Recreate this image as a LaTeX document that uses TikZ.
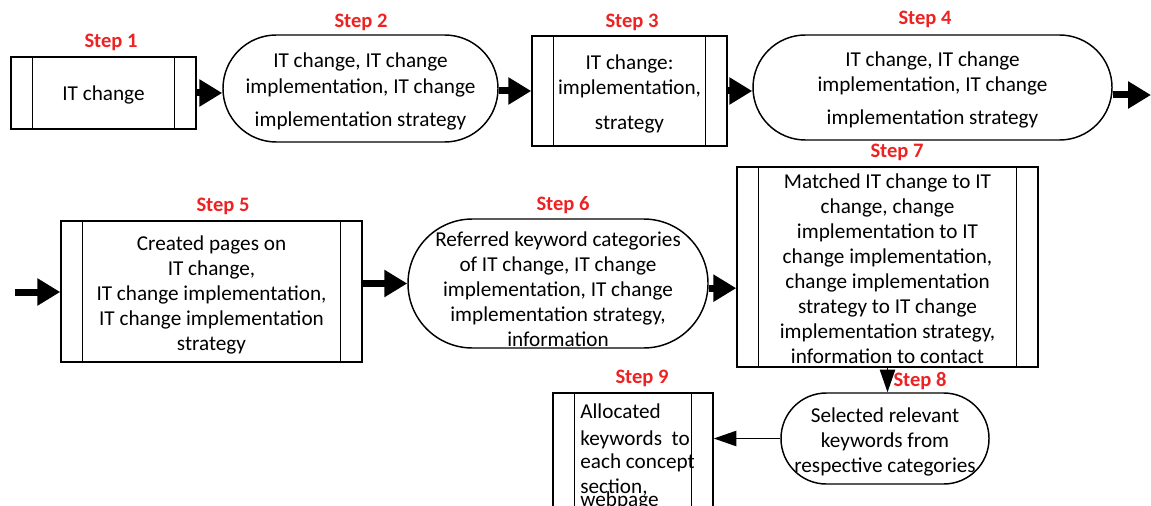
\documentclass[tikz,border=0pt]{standalone}
\usepackage{fontspec}
\setmainfont{Carlito}
\usetikzlibrary{arrows.meta,calc}
\definecolor{steplabel}{RGB}{238,34,34}
\newlength{\upx}\setlength{\upx}{0.75pt}
\newcommand{\topgap}[1]{\rule{0pt}{#1}}
\begin{document}
\begin{tikzpicture}[x=0.75pt,y=-0.75pt,
 every node/.style={font=\fontsize{15.9}{18.75}\selectfont},
 procbox/.style={draw, rectangle, line width=1.1pt, align=center, inner sep=0pt},
 termbox/.style={draw, rectangle, rounded corners=#1, line width=1.1pt, align=center, inner sep=0pt},
 steptitle/.style={text=steplabel, font=\fontsize{15.4}{18}\selectfont\bfseries, inner sep=0pt},
 bigarrow/.style={line width=5.25pt, -{Triangle[length=17.25pt,width=19.5pt]}},
 thinarrow/.style={line width=1.1pt, -{Triangle[length=17pt,width=11.5pt]}},
 bar/.style={line width=1.1pt}
]
\useasboundingbox (0,0) rectangle (1151,506);
\clip (0,0) rectangle (1151,506);

% row 1
\node[procbox, minimum width=185*\upx, minimum height=72*\upx] (s1) at (103.5,93) {\topgap{13.8pt}IT change};
\node[termbox=40pt, minimum width=275*\upx, minimum height=107*\upx] (s2) at (360.5,88.5)
  {\topgap{16pt}IT change, IT change\\[0.75pt] implementation, IT change\\[6pt] implementation strategy};
\node[procbox, minimum width=195*\upx, minimum height=110*\upx] (s3) at (629.5,91)
  {\topgap{15.4pt}IT change:\\ implementation,\\[8pt] strategy};
\node[termbox=39.3pt, minimum width=359*\upx, minimum height=105*\upx] (s4) at (932.5,87.5)
  {\topgap{15.4pt}IT change, IT change\\ implementation, IT change\\[6pt] implementation strategy};

% row 2
\node[procbox, minimum width=301*\upx, minimum height=141*\upx] (s5) at (211.5,291.5)
  {\topgap{16.8pt}Created pages on\\ IT change,\\ IT change implementation,\\ IT change implementation\\ strategy};
\node[termbox=48.3pt, minimum width=300*\upx, minimum height=129*\upx] (s6) at (558,283.5)
  {\topgap{19.8pt}Referred keyword categories\\ of IT change, IT change\\ implementation, IT change\\ implementation strategy,\\ information};
\node[procbox, minimum width=301*\upx, minimum height=200*\upx] (s7) at (887.5,267)
  {\topgap{13.8pt}Matched IT change to IT\\ change, change\\ implementation to IT\\ change implementation,\\ change implementation\\ strategy to IT change\\ implementation strategy,\\ information to contact};

% row 3
\node[termbox=34pt, minimum width=208*\upx, minimum height=91*\upx] (s8) at (885,438.5)
  {\topgap{16pt}Selected relevant\\ keywords from\\ respective categories};
\node[procbox, minimum width=160*\upx, minimum height=170*\upx] (s9) at (633,478)
  {\parbox[c][127.5pt][t]{120pt}{\leftskip=20.5pt\rightskip=0pt plus 1fil\parindent=0pt
   \vspace*{7.75pt}Allocated\\[1.5pt] keywords\ \ to\\[-1.5pt] each concept\\ section,\\[-9pt] webpage}};

% side bars of the process boxes
\foreach \n in {s1,s3,s5,s7,s9}{
  \draw[bar] ([xshift=16.5pt]\n.north west) -- ([xshift=16.5pt]\n.south west);
  \draw[bar] ([xshift=-16.5pt]\n.north east) -- ([xshift=-16.5pt]\n.south east);
}

% step labels
\node[steptitle] (l1) at (111,42) {Step 1};
\node[steptitle] (l2) at (361,22) {Step 2};
\node[steptitle] (l3) at (632,22) {Step 3};
\node[steptitle] (l4) at (925,19) {Step 4};
\node[steptitle] (l5) at (223,206) {Step 5};
\node[steptitle] (l6) at (563,205) {Step 6};
\node[steptitle] (l7) at (897,152) {Step 7};
\node[steptitle] (l8) at (920,381) {Step 8};
\node[steptitle] (l9) at (642,378) {Step 9};

% connectors
\coordinate (out4) at (1151,95);
\coordinate (in5) at (15,292);
\draw[bigarrow] (s1.east) -- (s1.east -| s2.west);
\draw[bigarrow] (s3.west -| s2.east) -- (s3.west);
\draw[bigarrow] (s3.east) -- (s3.east -| s4.west);
\draw[bigarrow] (out4 -| s4.east) -- (out4);
\draw[bigarrow] (in5) -- (in5 -| s5.west);
\draw[bigarrow] (s6.west -| s5.east) -- (s6.west);
\draw[bigarrow] ([yshift=-3.5pt]s6.east) -- ([yshift=-3.5pt]s6.east -| s7.west);
\draw[thinarrow] (s7.south) -- (s7.south |- s8.north);
\draw[thinarrow] (s8.west) -- (s8.west -| s9.east);
\end{tikzpicture}
\end{document}
